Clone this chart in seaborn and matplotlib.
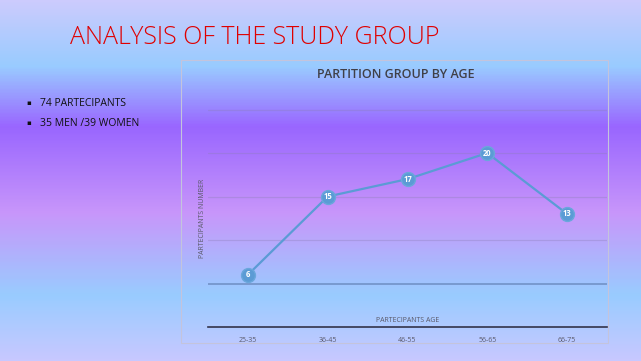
import numpy as np
import matplotlib.pyplot as plt
import seaborn as sns
from matplotlib.colors import LinearSegmentedColormap
from matplotlib.patches import Rectangle

# Data
age_groups = ["25-35", "36-45", "46-55", "56-65", "66-75"]
participants = [6, 15, 17, 20, 13]
bullets = ["74 PARTECIPANTS", "35 MEN /39 WOMEN"]

sns.set_theme(style="white")
plt.rcParams["font.family"] = ["Open Sans", "DejaVu Sans"]

W, H = 641, 361
fig = plt.figure(figsize=(W / 100, H / 100), dpi=100)

# Slide background: vertical gradient
bg = fig.add_axes([0, 0, 1, 1], zorder=0)
stops = [(0.0, "#cccbfd"), (0.18, "#99ccff"), (0.35, "#9966ff"),
         (0.59, "#c896fa"), (0.82, "#99ccff"), (1.0, "#c8c8ff")]
cmap = LinearSegmentedColormap.from_list("slide", stops)
bg.imshow(np.linspace(0, 1, 361).reshape(-1, 1), aspect="auto", cmap=cmap,
          extent=[0, 1, 0, 1], origin="upper")
bg.axis("off")

# Chart frame
fig.patches.append(Rectangle((181 / W, 1 - 343 / H), (608 - 181) / W, (343 - 60) / H,
                             transform=fig.transFigure, fill=False,
                             edgecolor="#c4c4dc", lw=0.8, zorder=1))

# Slide title and bullets
fig.text(70 / W, 1 - 38 / H, "ANALYSIS OF THE STUDY GROUP", color="#e00000",
         fontsize=18, fontweight="light", va="center", ha="left")
for i, b in enumerate(bullets):
    y = 1 - (103 + 20 * i) / H
    fig.text(26 / W, y, "▪", fontsize=5, color="#111111", va="center",
             family=["DejaVu Sans"])
    fig.text(40 / W, y, b, fontsize=7.5, color="#111111", va="center")

# Plot area
y_top = 26
px_per_unit = (327 - 153) / 20
top_px = 327 - y_top * px_per_unit
ax = fig.add_axes([208 / W, 1 - 327 / H, (607 - 208) / W, (327 - top_px) / H], zorder=2)
ax.set_facecolor("none")

for v in [10, 15, 20, 25]:
    ax.axhline(v, color="#8c7fb8", alpha=0.35, lw=0.9, zorder=1)
ax.axhline(5, color="#6f8fc4", alpha=0.8, lw=1.4, zorder=1)

sns.lineplot(x=age_groups, y=participants, sort=False, ax=ax, color="#5b9bd5",
             lw=1.6, marker="o", markersize=10, markeredgecolor="#6aa7dc",
             markeredgewidth=1, zorder=3)
for i, v in enumerate(participants):
    ax.text(i, v, str(v), color="white", fontsize=5.5, fontweight="bold",
            ha="center", va="center", zorder=4)

ax.set_xlim(-0.5, len(age_groups) - 0.5)
ax.set_ylim(0, y_top)
ax.set_yticks([])
ax.set_xlabel("")
ax.set_ylabel("")
for s in ["top", "left", "right"]:
    ax.spines[s].set_visible(False)
ax.spines["bottom"].set_color("#33334a")
ax.spines["bottom"].set_linewidth(1.2)
ax.tick_params(axis="x", length=0, pad=7, labelsize=5, labelcolor="#5a5a6a")

ax.text(0.5, 0.028, "PARTECIPANTS AGE", transform=ax.transAxes, ha="center",
        va="center", fontsize=5, color="#5a5a6a")
fig.text(202 / W, 1 - 218 / H, "PARTECIPANTS NUMBER", rotation=90, ha="center",
         va="center", fontsize=5, color="#5a5a6a")
fig.text(396 / W, 1 - 74 / H, "PARTITION GROUP BY AGE", ha="center", va="center",
         fontsize=9, fontweight="semibold", color="#404048")

fig.savefig("out.png", dpi=100)
